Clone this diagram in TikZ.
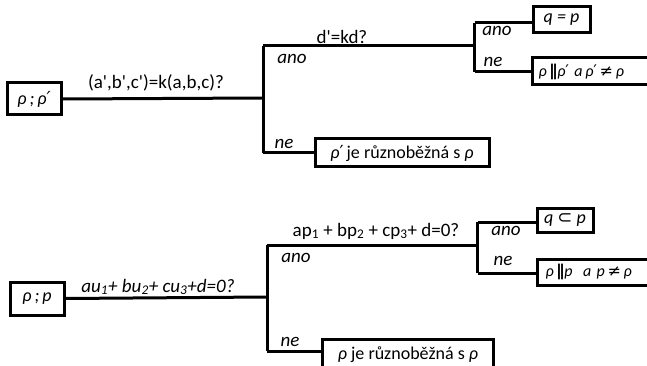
\documentclass[tikz,border=0pt]{standalone}
\usepackage{fontspec}
\setmainfont{Carlito}[Ligatures=TeXOff]
\newfontfamily\symf{DejaVu Sans}
\newcommand{\rh}{\textit{ρ}}
\newcommand{\prm}{{\symf ′}}
\newcommand{\parl}{{\symf\bfseries ∥}}
\newcommand{\nparl}{{\symf ≠}}
\newcommand{\subs}{{\symf ⊂}}
\begin{document}
\begin{tikzpicture}[x=1pt,y=-1pt,
  wire/.style={line width=3pt,line join=miter},
  box/.style={draw,line width=3pt,rectangle,inner sep=0pt,font=\fontsize{18}{20}\selectfont},
  small/.style={font=\fontsize{16}{18}\selectfont},
  cond/.style={font=\fontsize{19}{22}\selectfont},
  lbl/.style={font=\fontsize{19}{22}\selectfont\itshape}]
\useasboundingbox (0,0) rectangle (647,366);
\clip (0,0) rectangle (647,366);
\fill[white] (0,0) rectangle (647,366);

% ---------- line and line ----------
\node[box,minimum width=54pt,minimum height=32pt] (s1) at (34,99) {\itshape ρ\,;\,ρ\prm};
\coordinate (j1) at (263,98);
\coordinate (j1t) at (263,46);
\coordinate (j1b) at (263,153);
\node[box,minimum width=174pt,minimum height=28pt] (r1c) at (402,153) {\rh\prm\,je různoběžná s \rh};
\coordinate (k1) at (474.5,46);
\coordinate (k1t) at (474.5,23);
\coordinate (k1b) at (474.5,72);
\node[box,minimum width=57pt,minimum height=26pt] (r1a) at (561.5,20) {\itshape q = p};
\node[box,small,minimum width=124pt,minimum height=27pt,anchor=west,text width=116pt,align=left] (r1b) at (531,71.5) {\hspace*{2pt}\rh\,\parl\rh\prm\ \textit{a}\,\rh\prm\,\nparl\,\rh};

\draw[wire] (s1.east) -- (j1);
\draw[wire] (j1t) -- (j1b);
\draw[wire] (j1t) -- (k1);
\draw[wire] (j1b) -- (r1c.west);
\draw[wire] (k1t) -- (k1b);
\draw[wire] (k1t) -- (r1a.west |- k1t);
\draw[wire] (k1b) -- (r1b.west |- k1b);

\node[cond] (q1) at (156,83) {(a',b',c')=k(a,b,c)?};
\node[cond] (q2) at (342,37) {d'=kd?};
\node[lbl] (y1) at (292,59) {ano};
\node[lbl] (n1) at (284,144) {ne};
\node[lbl] (y2) at (497,31) {ano};
\node[lbl] (n2) at (493,62) {ne};

% ---------- line and plane ----------
\node[box,minimum width=54pt,minimum height=33pt] (s2) at (37,298.5) {\itshape ρ\,;\,p};
\coordinate (j2) at (267,297);
\coordinate (j2t) at (267,245);
\coordinate (j2b) at (267,351);
\node[box,minimum width=171pt,minimum height=30pt,anchor=north west] (r2c) at (321,338) {\rh\ je různoběžná s \rh};
\coordinate (k2) at (477.5,245);
\coordinate (k2t) at (477.5,222);
\coordinate (k2b) at (477.5,273);
\node[box,minimum width=56pt,minimum height=24pt] (r2a) at (565,220) {\itshape q \subs\ p};
\node[box,small,minimum width=124pt,minimum height=26pt,anchor=west,text width=116pt,align=left] (r2b) at (536,272) {\hspace*{4pt}\rh\,\parl\textit{p}\ \ \textit{a p}\,\nparl\,\rh};

\draw[wire] (s2.east) -- (j2);
\draw[wire] (j2t) -- (j2b);
\draw[wire] (j2t) -- (k2);
\draw[wire] (j2b) -- (r2c.west |- j2b);
\draw[wire] (k2t) -- (k2b);
\draw[wire] (k2t) -- (r2a.west |- k2t);
\draw[wire] (k2b) -- (r2b.west |- k2b);

\node[cond,font=\fontsize{19}{22}\selectfont\itshape] (q3) at (158,287) {au\textsubscript{1}+ bu\textsubscript{2}+ cu\textsubscript{3}+d=0?};
\node[cond] (q4) at (376,231) {ap\textsubscript{1} + bp\textsubscript{2} + cp\textsubscript{3}+ d=0?};
\node[lbl] (y3) at (296,258) {ano};
\node[lbl] (n3) at (290,342) {ne};
\node[lbl] (y4) at (506,231) {ano};
\node[lbl] (n4) at (503,261) {ne};
\end{tikzpicture}
\end{document}
